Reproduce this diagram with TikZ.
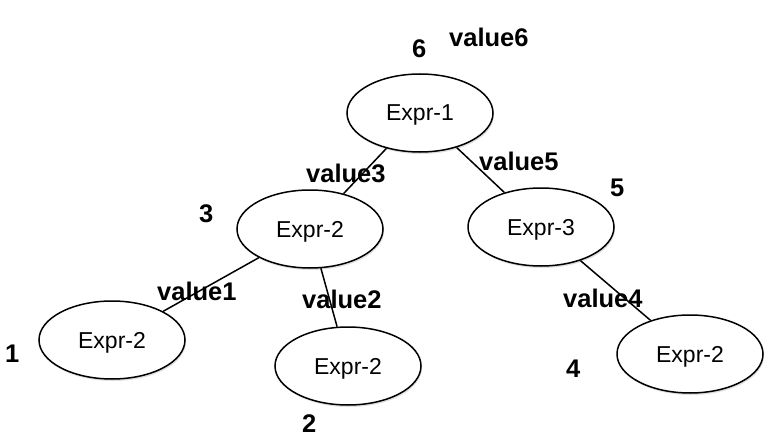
\documentclass[tikz,border=0pt]{standalone}
\usepackage{fontspec}
\setmainfont{Liberation Sans}
\usetikzlibrary{shapes.geometric,shadows}
\begin{document}
\begin{tikzpicture}[x=1pt,y=-1pt,
  exprnode/.style={ellipse,draw,line width=1.5pt,fill=white,minimum width=146pt,minimum height=78pt,inner sep=0pt,
    font=\fontsize{23}{27}\selectfont,text depth=0pt,
    drop shadow={opacity=0.25,shadow xshift=1pt,shadow yshift=-2pt}},
  lbl/.style={anchor=base west,inner sep=0pt,font=\fontsize{25.5}{30}\selectfont\bfseries},
  edge/.style={line width=1.5pt}]
\useasboundingbox (0,0) rectangle (780,444);
\node[exprnode] (e1) at (420,113) {Expr-1};
\node[exprnode] (e2) at (310,229) {Expr-2};
\node[exprnode] (e3) at (541,227) {Expr-3};
\node[exprnode] (l1) at (112,340) {Expr-2};
\node[exprnode] (l2) at (348,366) {Expr-2};
\node[exprnode] (l4) at (690,354) {Expr-2};
\draw[edge] (e1) -- (e2);
\draw[edge] (e1) -- (e3);
\draw[edge] (e2) -- (l1);
\draw[edge] (e2) -- (l2);
\draw[edge] (e3) -- (l4);
\node[lbl] (t6) at (412,58) {6};
\node[lbl] (v6) at (449,47) {value6};
\node[lbl] (v3) at (306,182) {value3};
\node[lbl] (t3) at (199,222) {3};
\node[lbl] (v5) at (479,170) {value5};
\node[lbl] (t5) at (610,196) {5};
\node[lbl] (v1) at (157,300) {value1};
\node[lbl] (t1) at (5,362) {1};
\node[lbl] (v2) at (302,308) {value2};
\node[lbl] (t2) at (302,432) {2};
\node[lbl] (v4) at (563,307) {value4};
\node[lbl] (t4) at (566,377) {4};
\end{tikzpicture}
\end{document}
